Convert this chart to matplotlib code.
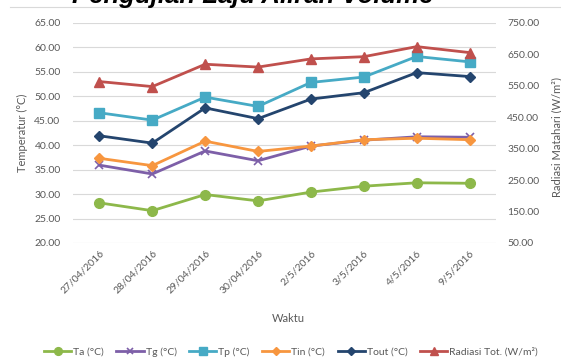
import matplotlib
matplotlib.use("Agg")
import matplotlib.pyplot as plt
from matplotlib.lines import Line2D

dates = ["27/04/2016", "28/04/2016", "29/04/2016", "30/04/2016",
         "2/5/2016", "3/5/2016", "4/5/2016", "9/5/2016"]
ta = [28.2, 26.6, 29.9, 28.6, 30.4, 31.6, 32.3, 32.2]
tg = [35.9, 34.1, 38.8, 36.8, 39.8, 41.0, 41.7, 41.6]
tp = [46.6, 45.1, 49.8, 47.9, 52.8, 53.9, 58.1, 57.0]
tin = [37.3, 35.8, 40.8, 38.7, 39.8, 41.1, 41.4, 41.1]
tout = [41.9, 40.4, 47.6, 45.4, 49.4, 50.7, 54.8, 54.0]
rad = [563, 547, 618, 609, 635, 642, 674, 655]

left_ticks = [20, 25, 30, 35, 40, 45, 50, 55, 60, 65]
right_ticks = [50, 150, 250, 350, 450, 550, 650, 750]

FONT = "Lato"
TXT = "#595959"
plt.rcParams["font.family"] = [FONT, "DejaVu Sans"]

W, H = 561, 363
fig = plt.figure(figsize=(W / 100, H / 100), dpi=100)
L, R, T, B = 73, 496, 22.7, 243
ax = fig.add_axes([L / W, 1 - B / H, (R - L) / W, (B - T) / H])
ax2 = ax.twinx()

x = list(range(len(dates)))
series = [
    (ax, ta, "Ta (°C)", "#8DB84A", "o", 7, 0),
    (ax, tg, "Tg (°C)", "#7D5FA8", "x", 6, 1.2),
    (ax, tp, "Tp (°C)", "#46AAC5", "s", 7, 0),
    (ax, tin, "Tin (°C)", "#F7963F", "D", 5.5, 0),
    (ax, tout, "Tout (°C)", "#24456E", "D", 5.5, 0),
    (ax2, rad, "Radiasi Tot. (W/m²)", "#C0504D", "^", 7, 0),
]
handles = []
for a, y, lab, c, m, ms, mew in series:
    h, = a.plot(x, y, color=c, lw=2, marker=m, ms=ms, mfc=c, mec=c,
                mew=mew if mew else 1, label=lab)
    handles.append(h)

ax.set_xlim(-0.5, len(dates) - 0.5)
ax.set_ylim(20, 65)
ax.set_yticks(left_ticks)
ax.set_yticklabels([f"{v:.2f}" for v in left_ticks])
ax2.set_ylim(50, 750)
ax2.set_yticks(right_ticks)
ax2.set_yticklabels([f"{v:.2f}" for v in right_ticks])
ax.set_xticks(x)
ax.set_xticklabels(dates, rotation=45, ha="right", va="top",
                   rotation_mode="anchor")

ax.grid(axis="y", color="#D9D9D9", lw=0.8)
ax.set_axisbelow(True)
for a in (ax, ax2):
    for s in a.spines.values():
        s.set_visible(False)
    a.tick_params(length=0, labelsize=7.5, labelcolor=TXT)
ax.tick_params(axis="y", pad=9)
ax2.tick_params(axis="y", pad=8)
ax.tick_params(axis="x", pad=4)

fig.text(22 / W, 1 - 133 / H, "Temperatur (°C)", rotation=90, ha="center",
         va="center", color=TXT, fontsize=8)
fig.text(557 / W, 1 - 137 / H, "Radiasi Matahari (W/m²)", rotation=90,
         ha="center", va="center", color=TXT, fontsize=8)
fig.text(288 / W, 1 - 318 / H, "Waktu", ha="center", va="center",
         color=TXT, fontsize=8)

fig.text(253 / W, 1 - 2.5 / H, "Pengujian Laju Aliran Volume",
         ha="center", va="baseline", fontsize=18.5, fontweight="bold",
         fontstyle="italic", family=["Liberation Sans", "DejaVu Sans"],
         color="black")
fig.add_artist(Line2D([10 / W, 1], [1 - 7 / H, 1 - 7 / H],
                      transform=fig.transFigure, color="#D9D9D9", lw=0.8))

fig.legend(handles=handles, loc="center", bbox_to_anchor=(291 / W, 1 - 352 / H),
           ncol=6, frameon=False, fontsize=7.5, labelcolor=TXT,
           handlelength=2.6, columnspacing=1.2, handletextpad=0.2,
           markerscale=0.8, borderaxespad=0)

fig.savefig("out.png", dpi=100)
